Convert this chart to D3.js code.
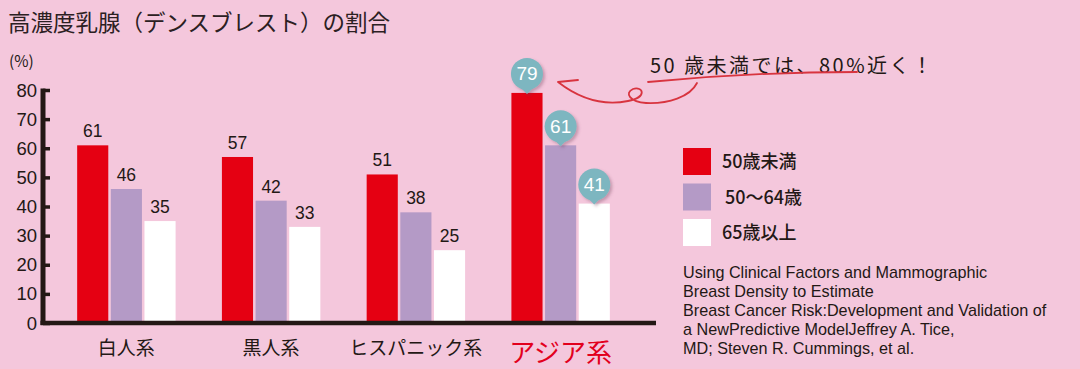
<!DOCTYPE html>
<html>
<head>
<meta charset="utf-8">
<script src="https://cdn.jsdelivr.net/npm/d3@7"></script>
<style>
  html, body { margin: 0; padding: 0; background: #f4c7dc; }
  svg { display: block; }
</style>
</head>
<body>
<svg id="chart" width="1080" height="369"></svg>
<script>
// ---- data ----
const categories = ["白人系", "黒人系", "ヒスパニック系", "アジア系"];
const seriesNames = ["50歳未満", "50～64歳", "65歳以上"];
const under50 = [61, 57, 51, 79];
const age50to64 = [46, 42, 38, 61];
const age65plus = [35, 33, 25, 41];
const yTickValues = [0, 10, 20, 30, 40, 50, 60, 70, 80];
const highlightCategory = "アジア系";
const titleText = "高濃度乳腺（デンスブレスト）の割合";
const unitText = "(%)";
const calloutText = "50 歳未満では、80%近く！";
const sourceLines = [
  "Using Clinical Factors and Mammographic",
  "Breast Density to Estimate",
  "Breast Cancer Risk:Development and Validation of",
  "a NewPredictive ModelJeffrey A. Tice,",
  "MD; Steven R. Cummings, et al."
];

// ---- styles ----
const colors = ["#e50012", "#b49ac6", "#ffffff"];
const ink = "#231815";
const jp = "'Noto Sans CJK JP', 'Noto Sans', sans-serif";
const num = "'Liberation Sans', Arial, sans-serif";
const narrow = "'Liberation Sans Narrow', 'Liberation Sans', Arial, sans-serif";

const svg = d3.select("#chart");
const defs = svg.append("defs");
const f = defs.append("filter").attr("id", "shadow")
  .attr("x", "-50%").attr("y", "-50%").attr("width", "200%").attr("height", "200%");
f.append("feDropShadow").attr("dx", 2).attr("dy", 2).attr("stdDeviation", 1.8)
  .attr("flood-color", "#6b3b55").attr("flood-opacity", 0.35);

// ---- rows ----
const rows = categories.map((c, i) => ({
  category: c,
  values: [under50[i], age50to64[i], age65plus[i]]
}));

// ---- scales ----
const y = d3.scaleLinear().domain([0, 80]).range([323, 90]);
const x0 = d3.scaleBand().domain(categories).range([54, 633])
  .paddingInner(0.32).paddingOuter(0.16);
const x1 = d3.scaleBand().domain(d3.range(seriesNames.length))
  .range([0, x0.bandwidth()]).paddingInner(0.075);

// ---- title ----
svg.append("text").attr("x", 8).attr("y", 31)
  .attr("font-family", jp).attr("font-size", 22.5).attr("fill", "#2b2022")
  .attr("textLength", 382).attr("lengthAdjust", "spacing")
  .text(titleText);

svg.append("text").attr("x", 9).attr("y", 67)
  .attr("font-family", jp).attr("font-size", 15.5).attr("fill", ink)
  .text(unitText);

// ---- bars ----
const groups = svg.append("g").selectAll("g").data(rows).join("g")
  .attr("transform", d => `translate(${x0(d.category)},0)`);

groups.selectAll("rect").data(d => d.values.map((v, k) => ({ v, k, cat: d.category })))
  .join("rect")
  .attr("x", d => x1(d.k))
  .attr("width", x1.bandwidth())
  .attr("y", d => y(d.v))
  .attr("height", d => y(0) - y(d.v))
  .attr("fill", d => colors[d.k]);

// plain value labels
groups.selectAll("text.val").data(d => d.category === highlightCategory ? [] :
    d.values.map((v, k) => ({ v, k })))
  .join("text").attr("class", "val")
  .attr("x", d => x1(d.k) + x1.bandwidth() / 2)
  .attr("y", d => y(d.v) - 8)
  .attr("text-anchor", "middle")
  .attr("font-family", narrow).attr("font-size", 17.5).attr("fill", ink)
  .text(d => d.v);

// bubble labels for highlight
const bub = groups.filter(d => d.category === highlightCategory)
  .selectAll("g.bub").data(d => d.values.map((v, k) => ({ v, k })))
  .join("g").attr("class", "bub")
  .attr("transform", d => `translate(${x1(d.k) + x1.bandwidth() / 2},${y(d.v)})`);
const bshape = bub.append("g").attr("filter", "url(#shadow)");
bshape.append("circle").attr("cx", 0).attr("cy", -19).attr("r", 16).attr("fill", "#7db6c0");
bshape.append("path").attr("d", "M-6,-5 L0,1 L6,-5 Z").attr("fill", "#7db6c0");
bub.append("text").attr("x", 0).attr("y", -12.5)
  .attr("text-anchor", "middle")
  .attr("font-family", narrow).attr("font-size", 19).attr("fill", "#ffffff")
  .text(d => d.v);

// ---- axes ----
const yAxis = svg.append("g").attr("transform", "translate(43,0)")
  .call(d3.axisRight(y).tickValues(yTickValues).tickSize(7).tickFormat(""));
yAxis.select(".domain").remove();
yAxis.selectAll(".tick line").attr("stroke", ink).attr("stroke-width", 3.5);
svg.append("line").attr("x1", 43).attr("x2", 43).attr("y1", y(80) - 1.5).attr("y2", y(0) + 2)
  .attr("stroke", ink).attr("stroke-width", 5);
svg.append("line").attr("x1", 40.5).attr("x2", 656).attr("y1", y(0)).attr("y2", y(0))
  .attr("stroke", ink).attr("stroke-width", 4.5);

svg.append("g").selectAll("text").data(yTickValues).join("text")
  .attr("x", 37).attr("y", d => y(d) + 6.5)
  .attr("text-anchor", "end")
  .attr("font-family", num).attr("font-size", 18.5).attr("fill", ink)
  .text(d => d);

// category labels
svg.append("g").selectAll("text").data(categories).join("text")
  .attr("x", d => x0(d) + x0.bandwidth() / 2)
  .attr("y", d => d === highlightCategory ? 362 : 355)
  .attr("text-anchor", "middle")
  .attr("font-family", jp)
  .attr("font-size", d => d === highlightCategory ? 26 : 19)
  .attr("fill", d => d === highlightCategory ? "#e2001d" : ink)
  .text(d => d);

// ---- legend ----
const lg = svg.append("g").selectAll("g").data(seriesNames).join("g")
  .attr("transform", (d, i) => `translate(683,${148 + i * 35.5})`);
lg.append("rect").attr("width", 28).attr("height", 27).attr("fill", (d, i) => colors[i]);
lg.append("text").attr("x", (d, i) => i === 1 ? 42 : 39).attr("y", 20)
  .attr("font-family", jp).attr("font-size", 18).attr("font-weight", 500)
  .attr("fill", ink).text(d => d);

// ---- source ----
svg.append("g").selectAll("text").data(sourceLines).join("text")
  .attr("x", 683).attr("y", (d, i) => 278 + i * 19)
  .attr("font-family", narrow).attr("font-size", 16.2).attr("fill", ink)
  .text(d => d);

// ---- callout ----
svg.append("text").attr("x", 650).attr("y", 73)
  .attr("font-family", jp).attr("font-size", 20).attr("fill", ink)
  .attr("textLength", 282).attr("lengthAdjust", "spacing")
  .text(calloutText);

const red = "#d8343f";
svg.append("path")
  .attr("d", "M648,82 C700,77 780,72 857,72")
  .attr("fill", "none").attr("stroke", red).attr("stroke-width", 1.8).attr("stroke-linecap", "round");
svg.append("path")
  .attr("d", "M697,83 C690,97 668,104 646,103 C630,102 624,93 633,89 C643,86 648,97 628,101 C608,105 585,103 558,82 M558,82 L578,80")
  .attr("fill", "none").attr("stroke", red).attr("stroke-width", 1.8)
  .attr("stroke-linecap", "round").attr("stroke-linejoin", "round");
</script>
</body>
</html>
